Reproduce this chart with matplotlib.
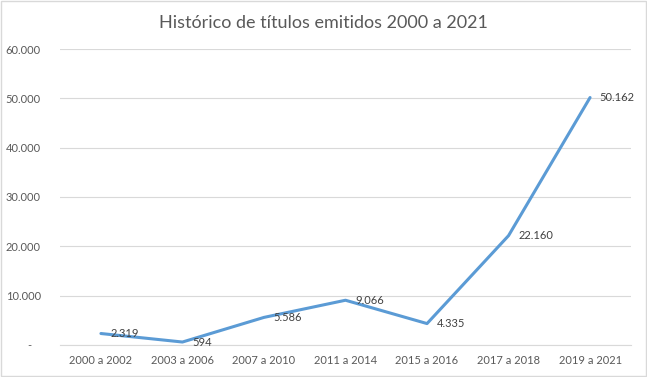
import matplotlib
matplotlib.use("Agg")
import matplotlib.pyplot as plt
from matplotlib.patches import Rectangle

categories = ["2000 a 2002", "2003 a 2006", "2007 a 2010", "2011 a 2014",
              "2015 a 2016", "2017 a 2018", "2019 a 2021"]
values = [2319, 594, 5586, 9066, 4335, 22160, 50162]
value_labels = ["2.319", "594", "5.586", "9.066", "4.335", "22.160", "50.162"]
yticks = [0, 10000, 20000, 30000, 40000, 50000, 60000]
ytick_labels = ["-   ", "10.000", "20.000", "30.000", "40.000", "50.000", "60.000"]
title = "Histórico de títulos emitidos 2000 a 2021"

plt.rcParams['font.family'] = ['Lato', 'DejaVu Sans']
txt = "#595959"

fig = plt.figure(figsize=(6.47, 3.77), dpi=100)
fig.patches.append(Rectangle((0.002, 0.003), 0.996, 0.994, transform=fig.transFigure,
                             fill=False, edgecolor="#D9D9D9", linewidth=1))
ax = fig.add_axes([0.093, 0.085, 0.882, 0.785])
x = list(range(len(categories)))
ax.plot(x, values, color="#5B9BD5", linewidth=2.2, solid_capstyle="round")
ax.set_xlim(-0.5, len(categories) - 0.5)
ax.set_ylim(0, 60000)
ax.set_yticks(yticks)
ax.set_yticklabels(ytick_labels)
ax.set_xticks(x)
ax.set_xticklabels(categories)
ax.tick_params(axis="both", length=0, labelsize=8, colors=txt)
ax.tick_params(axis="y", pad=14)
ax.tick_params(axis="x", pad=7)
ax.grid(axis="y", color="#D9D9D9", linewidth=0.8)
ax.set_axisbelow(True)
for s in ["top", "right", "left"]:
    ax.spines[s].set_visible(False)
ax.spines["bottom"].set_color("#D9D9D9")
ax.spines["bottom"].set_linewidth(0.8)

for xi, v, lab in zip(x, values, value_labels):
    ax.annotate(lab, (xi, v), xytext=(7, 0), textcoords="offset points",
                ha="left", va="center", fontsize=8, color="#404040")

fig.text(0.5, 0.94, title, ha="center", va="center", fontsize=13, color=txt)
fig.savefig("out.png", dpi=100)
